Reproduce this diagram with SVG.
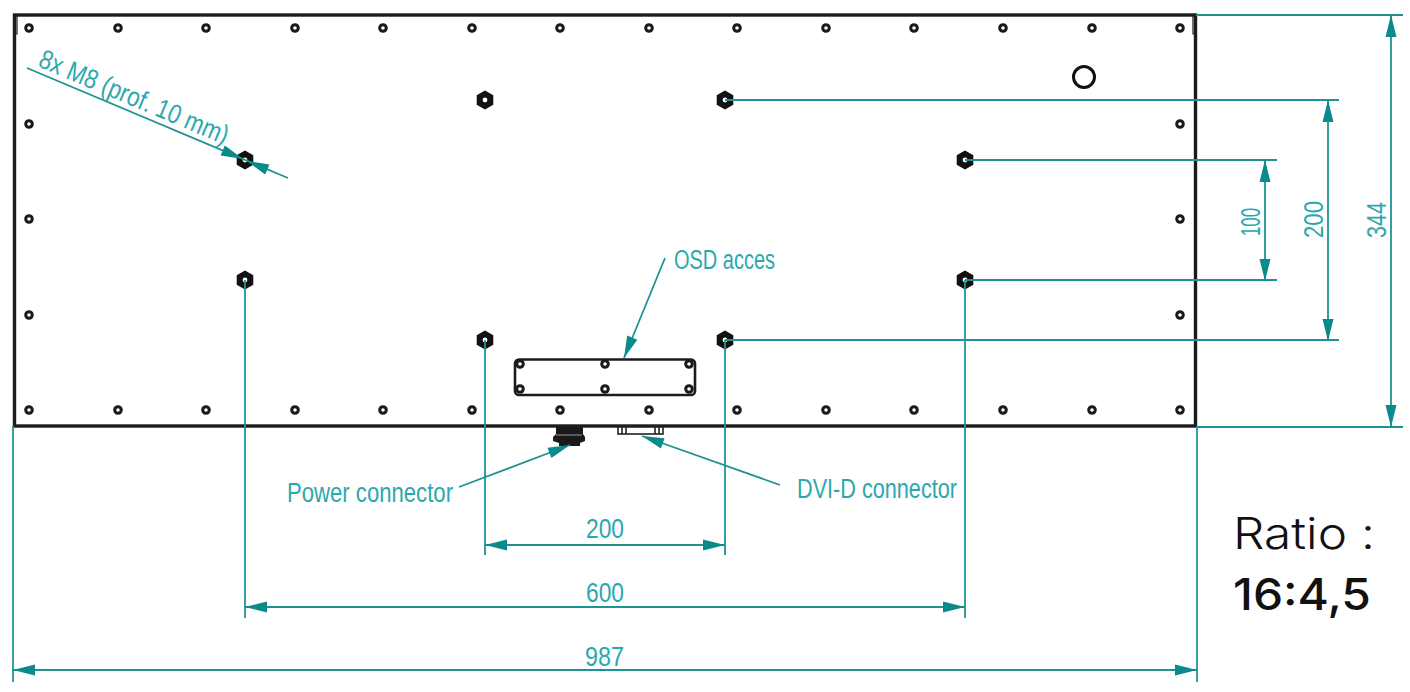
<svg xmlns="http://www.w3.org/2000/svg" width="1410" height="692" viewBox="0 0 1410 692">
<style>
.d{fill:none;stroke:#1f9393;stroke-width:1.8}
.a{fill:#0b8a8c;stroke:none}
.t{font-family:"Liberation Sans",Arial,sans-serif;font-size:27px;fill:#2ba8ae}
.r{font-family:"Inter","Liberation Sans",sans-serif;font-size:44px;fill:#111}
.k{fill:none;stroke:#1c1c1c}
</style>
<defs>
<g id="h"><circle r="3.3" fill="#fff" stroke="#1a1a1a" stroke-width="3"/></g>
<g id="x"><polygon points="0,-9.5 8.3,-4.8 8.3,4.8 0,9.5 -8.3,4.8 -8.3,-4.8" fill="#111"/><circle r="2.4" fill="#fff"/></g>
<polygon id="ar" class="a" points="0,0 -22,-5.5 -22,5.5"/>
</defs>
<rect width="1410" height="692" fill="#fff"/>
<g id="panel">
<rect class="k" x="14.5" y="15" width="1181" height="411" stroke-width="3.4"/>
<path class="k" stroke-width="1.2" d="M17 16V34H15M1193 16V34H1195"/>
</g>
<g id="holes">
<use href="#h" x="29" y="28"/><use href="#h" x="118" y="28"/><use href="#h" x="206" y="28"/><use href="#h" x="295" y="28"/><use href="#h" x="383" y="28"/><use href="#h" x="472" y="28"/><use href="#h" x="560" y="28"/><use href="#h" x="649" y="28"/><use href="#h" x="737" y="28"/><use href="#h" x="826" y="28"/><use href="#h" x="914" y="28"/><use href="#h" x="1003" y="28"/><use href="#h" x="1092" y="28"/><use href="#h" x="1180" y="28"/>
<use href="#h" x="29" y="410"/><use href="#h" x="118" y="410"/><use href="#h" x="206" y="410"/><use href="#h" x="295" y="410"/><use href="#h" x="383" y="410"/><use href="#h" x="472" y="410"/><use href="#h" x="560" y="410"/><use href="#h" x="649" y="410"/><use href="#h" x="737" y="410"/><use href="#h" x="826" y="410"/><use href="#h" x="914" y="410"/><use href="#h" x="1003" y="410"/><use href="#h" x="1092" y="410"/><use href="#h" x="1180" y="410"/>
<use href="#h" x="29" y="124"/><use href="#h" x="29" y="219"/><use href="#h" x="29" y="315"/>
<use href="#h" x="1180" y="124"/><use href="#h" x="1180" y="219"/><use href="#h" x="1180" y="315"/>
</g>
<g id="mounts">
<use href="#x" x="485" y="100"/><use href="#x" x="725" y="100"/><use href="#x" x="245" y="160"/><use href="#x" x="965" y="160"/><use href="#x" x="245" y="280"/><use href="#x" x="965" y="280"/><use href="#x" x="485" y="340"/><use href="#x" x="725" y="340"/>
</g>
<circle id="round-hole" cx="1084" cy="77" r="10.5" fill="#fff" stroke="#111" stroke-width="3"/>
<g id="osd-cover">
<rect class="k" x="515" y="359.500" width="180" height="35.500" rx="4" stroke-width="2.6"/>
<use href="#h" x="520" y="364"/><use href="#h" x="605" y="364"/><use href="#h" x="689" y="364"/><use href="#h" x="520" y="389"/><use href="#h" x="605" y="389"/><use href="#h" x="689" y="389"/>
</g>
<g id="power-connector">
<path fill="#1a1a1a" d="M556 427H583V434L585 437V441L580 443V446H559V443L553 441V437L556 434Z"/>
<path stroke="#bbb" stroke-width="0.8" d="M556 435H582"/>
</g>
<g id="dvi-connector">
<rect x="618" y="427" width="45" height="7" fill="#fff" stroke="#222" stroke-width="1.6"/>
<path fill="none" stroke="#222" stroke-width="1.6" d="M622 427V434M626 427V434M655 427V434M659 427V434"/>
</g>
<g id="connectors">
<path class="d" d="M27 68L288 178"/>
<path class="d" d="M725 100H1339M965 160H1277M965 280H1277M725 340H1339M1196 15H1403M1196 427H1403"/>
<path class="d" d="M1265 160V281M1328 100V341M1391 15V427"/>
<path class="d" d="M245 280V618M965 280V618M485 340V555M725 340V555M13 426V682M1197 426V682"/>
<path class="d" d="M485 545H725M245 607H965M13 670H1197"/>
<path class="d" d="M665 258L624 358M459 487L570 445M780 485L642 436"/>
<use href="#ar" transform="translate(243 159) rotate(22.8)"/>
<use href="#ar" transform="translate(247 161) rotate(202.8)"/>
<use href="#ar" transform="translate(1265 160) rotate(-90)"/>
<use href="#ar" transform="translate(1265 281) rotate(90)"/>
<use href="#ar" transform="translate(1328 100) rotate(-90)"/>
<use href="#ar" transform="translate(1328 341) rotate(90)"/>
<use href="#ar" transform="translate(1391 15) rotate(-90)"/>
<use href="#ar" transform="translate(1391 427) rotate(90)"/>
<use href="#ar" transform="translate(485 545) rotate(180)"/>
<use href="#ar" transform="translate(725 545)"/>
<use href="#ar" transform="translate(245 607) rotate(180)"/>
<use href="#ar" transform="translate(965 607)"/>
<use href="#ar" transform="translate(13 670) rotate(180)"/>
<use href="#ar" transform="translate(1197 670)"/>
<use href="#ar" transform="translate(624 358) rotate(112)"/>
<use href="#ar" transform="translate(570 445) rotate(-20.7)"/>
<use href="#ar" transform="translate(642 436) rotate(199.5)"/>
</g>
<g id="labels">
<text class="t" transform="translate(37 66) rotate(22.8)" textLength="203" lengthAdjust="spacingAndGlyphs">8x M8 (prof. 10 mm)</text>
<text class="t" x="674" y="269" textLength="101" lengthAdjust="spacingAndGlyphs">OSD acces</text>
<text class="t" x="287" y="502" textLength="166" lengthAdjust="spacingAndGlyphs">Power connector</text>
<text class="t" x="797" y="498" textLength="160" lengthAdjust="spacingAndGlyphs">DVI-D connector</text>
<text class="t" x="586" y="538" textLength="38" lengthAdjust="spacingAndGlyphs">200</text>
<text class="t" x="586" y="602" textLength="38" lengthAdjust="spacingAndGlyphs">600</text>
<text class="t" x="585" y="666" textLength="39" lengthAdjust="spacingAndGlyphs">987</text>
<text class="t" transform="translate(1260 236) rotate(-90)" textLength="28" lengthAdjust="spacingAndGlyphs">100</text>
<text class="t" transform="translate(1323 238) rotate(-90)" textLength="37" lengthAdjust="spacingAndGlyphs">200</text>
<text class="t" transform="translate(1386 238) rotate(-90)" textLength="36" lengthAdjust="spacingAndGlyphs">344</text>
<text class="r" x="1233" y="549" font-weight="300" textLength="142" lengthAdjust="spacingAndGlyphs">Ratio :</text>
<text class="r" x="1233" y="610" font-weight="500" textLength="138" lengthAdjust="spacingAndGlyphs">16:4,5</text>
</g>
</svg>
